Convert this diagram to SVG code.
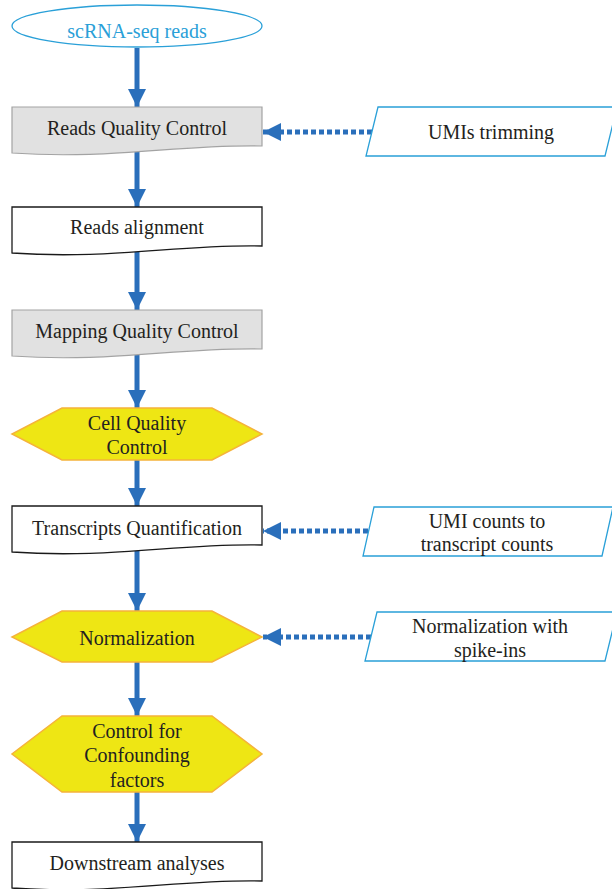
<svg xmlns="http://www.w3.org/2000/svg" width="612" height="889" viewBox="0 0 612 889">
<defs>
<style>
.t{font-family:"Liberation Serif","Times New Roman",serif;font-size:20px;fill:#231f20;text-anchor:middle;dominant-baseline:central}
.doc-g{fill:#e1e1e1;stroke:#a3a3a3;stroke-width:1.2}
.doc-w{fill:#ffffff;stroke:#1a1a1a;stroke-width:1.3}
.hex{fill:#eee614;stroke:#f5b33a;stroke-width:1.5}
.para{fill:#ffffff;stroke:#2aa0d8;stroke-width:1.3}
.flow{stroke:#2a6fbb;stroke-width:5;fill:none}
.dot{stroke:#2a6fbb;stroke-width:5;fill:none;stroke-dasharray:5 3}
</style>
<marker id="ah" markerUnits="userSpaceOnUse" markerWidth="18" markerHeight="18" viewBox="0 0 16 16" refX="16" refY="8" orient="auto">
<path d="M0,0 L16,8 L0,16 Z" fill="#2a6fbb"/>
</marker>
</defs>

<g id="connectors">
<line class="flow" x1="137" y1="48" x2="137" y2="107" marker-end="url(#ah)"/>
<line class="flow" x1="137" y1="152" x2="137" y2="207" marker-end="url(#ah)"/>
<line class="flow" x1="137" y1="252" x2="137" y2="310" marker-end="url(#ah)"/>
<line class="flow" x1="137" y1="355" x2="137" y2="408" marker-end="url(#ah)"/>
<line class="flow" x1="137" y1="460" x2="137" y2="506" marker-end="url(#ah)"/>
<line class="flow" x1="137" y1="551" x2="137" y2="611" marker-end="url(#ah)"/>
<line class="flow" x1="137" y1="662" x2="137" y2="716" marker-end="url(#ah)"/>
<line class="flow" x1="137" y1="792" x2="137" y2="842" marker-end="url(#ah)"/>
<line class="dot" x1="372" y1="132" x2="263" y2="132" marker-end="url(#ah)"/>
<line class="dot" x1="368" y1="531" x2="263" y2="531" marker-end="url(#ah)"/>
<line class="dot" x1="371" y1="637" x2="263" y2="637" marker-end="url(#ah)"/>
</g>

<g id="n-start">
<ellipse cx="137" cy="26" rx="125" ry="21" fill="#ffffff" stroke="#2aa0d8" stroke-width="1.3"/>
<text class="t" x="137" y="31" style="fill:#2aa0d8">scRNA-seq reads</text>
</g>

<g id="n-readsqc">
<path class="doc-g" d="M12,107 H262 V146 C180,144 110,160 12,153 Z"/>
<text class="t" x="137" y="128">Reads Quality Control</text>
</g>

<g id="n-align">
<path class="doc-w" d="M12,207 H262 V246 C180,244 110,260 12,253 Z"/>
<text class="t" x="137" y="227">Reads alignment</text>
</g>

<g id="n-mapqc">
<path class="doc-g" d="M12,310 H262 V349 C180,347 110,363 12,356 Z"/>
<text class="t" x="137" y="331">Mapping Quality Control</text>
</g>

<g id="n-cellqc">
<polygon class="hex" points="62,408 212,408 262,434 212,460 62,460 12,434"/>
<text class="t" x="137" y="423">Cell Quality</text>
<text class="t" x="137" y="447">Control</text>
</g>

<g id="n-quant">
<path class="doc-w" d="M12,506 H262 V545 C180,543 110,559 12,552 Z"/>
<text class="t" x="137" y="528">Transcripts Quantification</text>
</g>

<g id="n-norm">
<polygon class="hex" points="62,611 212,611 262,637 212,662 62,662 12,637"/>
<text class="t" x="137" y="638">Normalization</text>
</g>

<g id="n-confound">
<polygon class="hex" points="62,716 212,716 262,754 212,792 62,792 12,754"/>
<text class="t" x="137" y="731">Control for</text>
<text class="t" x="137" y="755">Confounding</text>
<text class="t" x="137" y="780">factors</text>
</g>

<g id="n-downstream">
<path class="doc-w" d="M12,842 H262 V881 C180,879 110,895 12,888 Z"/>
<text class="t" x="137" y="863">Downstream analyses</text>
</g>

<g id="n-umitrim">
<polygon class="para" points="378,107 617,107 605,156 366,156"/>
<text class="t" x="491" y="132">UMIs trimming</text>
</g>

<g id="n-umicounts">
<polygon class="para" points="374,507 613,507 602,556 363,556"/>
<text class="t" x="487" y="521">UMI counts to</text>
<text class="t" x="487" y="544">transcript counts</text>
</g>

<g id="n-spike">
<polygon class="para" points="377,612 617,612 605,661 365,661"/>
<text class="t" x="490" y="626">Normalization with</text>
<text class="t" x="490" y="650">spike-ins</text>
</g>
</svg>
